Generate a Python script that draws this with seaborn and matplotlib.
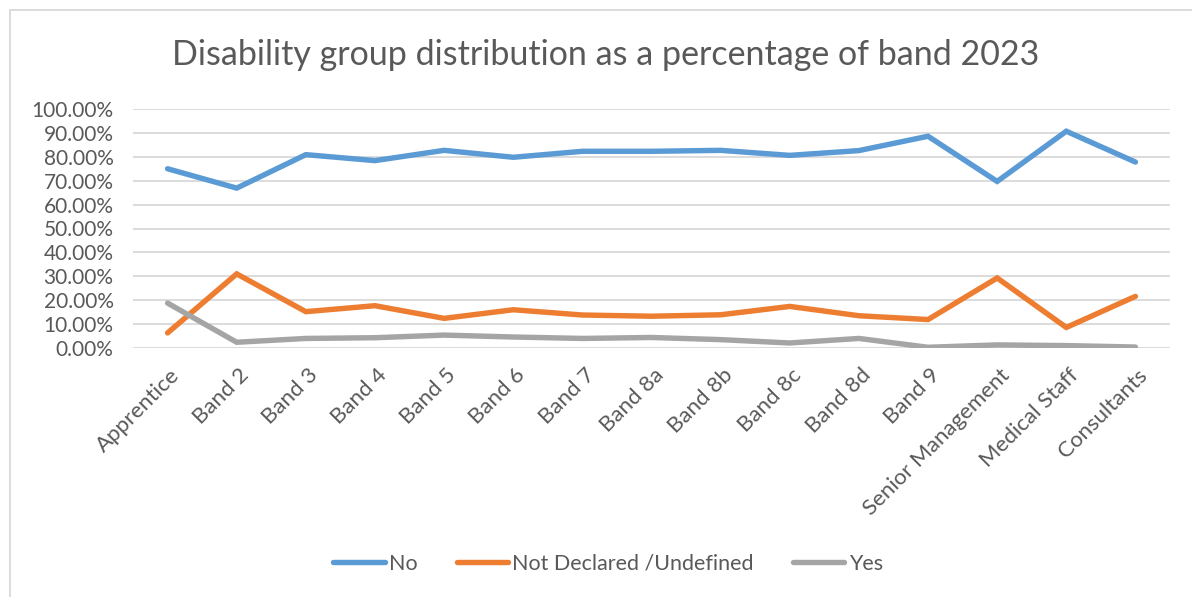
import matplotlib
matplotlib.use("Agg")
import matplotlib.pyplot as plt
import seaborn as sns
import pandas as pd
from matplotlib.ticker import FuncFormatter
from matplotlib.transforms import ScaledTranslation
from matplotlib.lines import Line2D

categories = ["Apprentice", "Band 2", "Band 3", "Band 4", "Band 5", "Band 6", "Band 7",
              "Band 8a", "Band 8b", "Band 8c", "Band 8d", "Band 9",
              "Senior Management", "Medical Staff", "Consultants"]
no_vals = [75.0, 66.9, 80.9, 78.4, 82.7, 79.8, 82.3, 82.3, 82.7, 80.6, 82.6, 88.6, 69.7, 90.7, 77.8]
not_declared_vals = [6.3, 31.0, 15.2, 17.7, 12.4, 16.0, 13.8, 13.3, 13.9, 17.4, 13.5, 11.9, 29.3, 8.6, 21.6]
yes_vals = [18.8, 2.4, 4.0, 4.3, 5.4, 4.6, 4.0, 4.4, 3.5, 2.1, 4.0, 0.3, 1.3, 1.0, 0.4]
series_names = ["No", "Not Declared /Undefined", "Yes"]
colors = ["#5B9BD5", "#ED7D31", "#A5A5A5"]
title = "Disability group distribution as a percentage of band 2023"

rows = []
for name, vals in zip(series_names, [no_vals, not_declared_vals, yes_vals]):
    for i, v in enumerate(vals):
        rows.append({"pos": i, "category": categories[i], "value": v, "series": name})
df = pd.DataFrame(rows)

sns.set_theme(style="white")
plt.rcParams["font.family"] = ["Lato", "DejaVu Sans"]
text_color = "#595959"

fig = plt.figure(figsize=(11.92, 5.97), dpi=100)
ax = fig.add_axes([133/1192, 1 - 348/597, (1170-133)/1192, (348-109)/597])

sns.lineplot(data=df, x="pos", y="value", hue="series", hue_order=series_names,
             palette=colors, ax=ax, linewidth=3.9, legend=False,
             solid_capstyle="round", solid_joinstyle="miter", sort=False)

ax.set_xlim(-0.5, len(categories) - 0.5)
ax.set_ylim(0, 100)
ax.set_yticks(range(0, 101, 10))
ax.yaxis.set_major_formatter(FuncFormatter(lambda v, p: f"{v:.2f}%"))
ax.grid(axis="y", color="#D9D9D9", linewidth=1.3)
ax.grid(axis="x", visible=False)
ax.set_axisbelow(True)
for s in ax.spines.values():
    s.set_visible(False)
ax.set_xlabel("")
ax.set_ylabel("")
ax.tick_params(axis="y", labelsize=15, colors=text_color, length=0, pad=14)
ax.tick_params(axis="x", labelsize=16, colors=text_color, length=0, pad=0)
ax.set_xticks(range(len(categories)))
ax.set_xticklabels(categories, rotation=45, ha="right", va="center", rotation_mode="anchor")
offset = ScaledTranslation(9/100, -24/100, fig.dpi_scale_trans)
for lbl in ax.get_xticklabels():
    lbl.set_transform(lbl.get_transform() + offset)

fig.text(606/1192, 1 - 55/597, title, ha="center", va="center", fontsize=24.5, color=text_color)

handles = [Line2D([0], [0], color=c, linewidth=3.9, solid_capstyle="round") for c in colors]
fig.legend(handles, series_names, loc="center", bbox_to_anchor=(608/1192, 1 - 564/597),
           ncol=3, frameon=False, fontsize=15.5, labelcolor=text_color,
           handlelength=2.4, handletextpad=0.2, columnspacing=1.8)

# chart border (top and left visible)
fig.add_artist(Line2D([10/1192, 1.0], [1 - 10/597, 1 - 10/597], transform=fig.transFigure,
                      color="#D9D9D9", linewidth=1.3))
fig.add_artist(Line2D([10/1192, 10/1192], [1 - 10/597, 0.0], transform=fig.transFigure,
                      color="#D9D9D9", linewidth=1.3))

fig.savefig("out.png", dpi=100, facecolor="white")
